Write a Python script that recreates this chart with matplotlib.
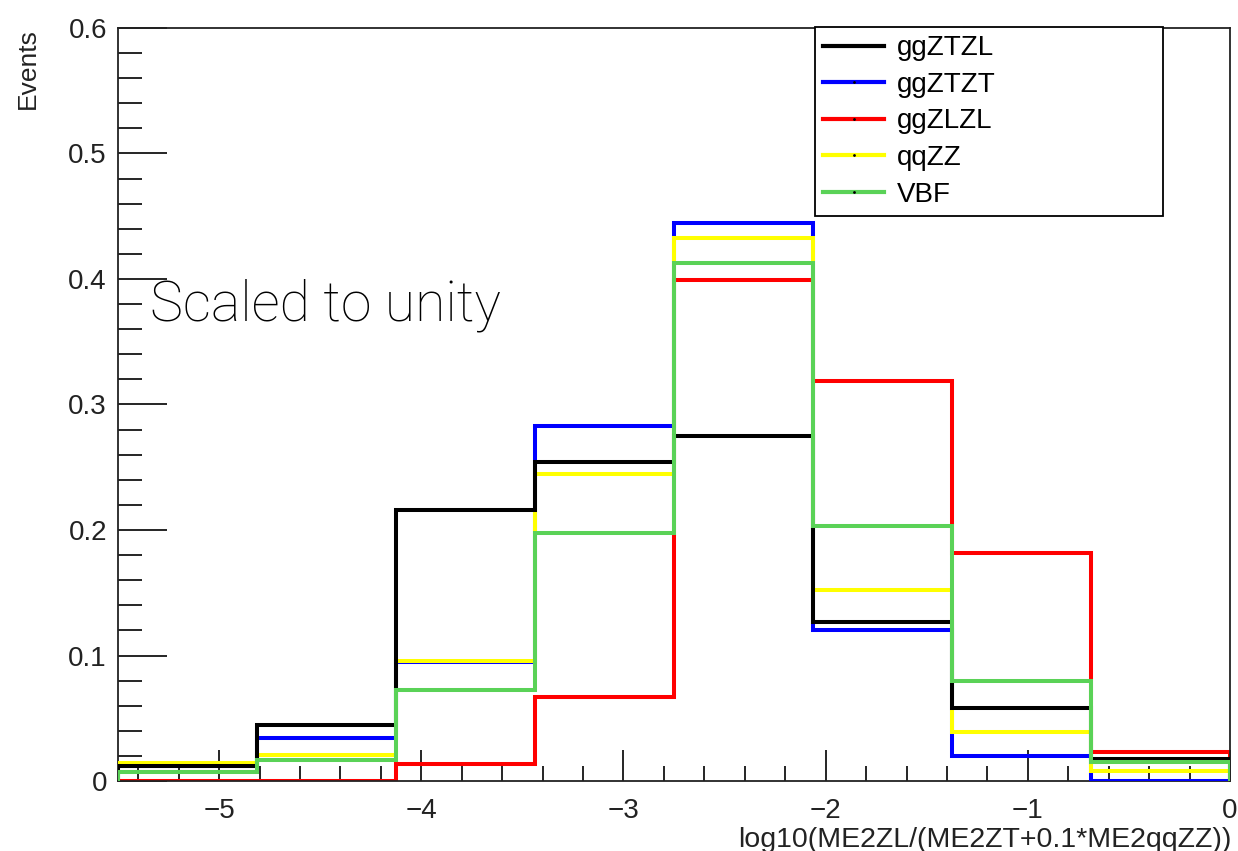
#!/usr/bin/env python3
# Normalised histograms of log10(ME2ZL/(ME2ZT+0.1*ME2qqZZ)), ROOT-style look

import numpy as np
import matplotlib
matplotlib.use("Agg")
import matplotlib.pyplot as plt
from matplotlib.lines import Line2D
from matplotlib.ticker import MultipleLocator, FuncFormatter

plt.rcParams['font.family'] = ['Liberation Sans', 'DejaVu Sans']

# ---------------------------------------------------------------------------
# Data
# ---------------------------------------------------------------------------
bin_edges = np.linspace(-5.5, 0.0, 9)

labels = ["ggZTZL", "ggZTZT", "ggZLZL", "qqZZ", "VBF"]
colors = ["black", "#0000ff", "#ff0000", "#ffff00", "#5ad257"]

ggZTZL = [0.012, 0.045, 0.216, 0.254, 0.275, 0.127, 0.058, 0.0175]
ggZTZT = [0.012, 0.034, 0.095, 0.283, 0.445, 0.120, 0.020, 0.0]
ggZLZL = [0.0, 0.0, 0.0135, 0.067, 0.399, 0.319, 0.182, 0.023]
qqZZ = [0.014, 0.021, 0.096, 0.245, 0.433, 0.152, 0.039, 0.008]
VBF = [0.007, 0.0167, 0.0725, 0.198, 0.413, 0.203, 0.080, 0.015]

series = [ggZTZL, ggZTZT, ggZLZL, qqZZ, VBF]
z_order = [5, 3, 2, 4, 6]

# ---------------------------------------------------------------------------
# Figure
# ---------------------------------------------------------------------------
W, H = 1238, 851
fig = plt.figure(figsize=(W / 100, H / 100), dpi=100)
ax = fig.add_axes([118 / W, 1 - 781 / H, (1230 - 118) / W, (781 - 28) / H])

for vals, col, lab, z in zip(series, colors, labels, z_order):
    ax.stairs(vals, bin_edges, baseline=0, color=col, lw=2.9, zorder=z, label=lab)

ax.set_xlim(-5.5, 0.0)
ax.set_ylim(0, 0.6)

# ticks like ROOT: inside, bottom/left only
ax.xaxis.set_major_locator(MultipleLocator(1))
ax.xaxis.set_minor_locator(MultipleLocator(0.2))
ax.yaxis.set_major_locator(MultipleLocator(0.1))
ax.yaxis.set_minor_locator(MultipleLocator(0.02))
ax.yaxis.set_major_formatter(FuncFormatter(lambda v, p: "0" if abs(v) < 1e-9 else f"{v:.1f}"))
ax.xaxis.set_major_formatter(FuncFormatter(lambda v, p: "0" if abs(v) < 1e-9 else f"{v:.0f}".replace("-", "\u2212")))

ax.tick_params(axis='x', which='major', direction='in', length=22, width=1.2, labelsize=20, pad=12)
ax.tick_params(axis='x', which='minor', direction='in', length=11, width=1.2)
ax.tick_params(axis='y', which='major', direction='in', length=35, width=1.2, labelsize=20, pad=8)
ax.tick_params(axis='y', which='minor', direction='in', length=17, width=1.2)
ax.tick_params(top=False, right=False, which='both')
for tl in ax.get_xticklabels() + ax.get_yticklabels():
    tl.set_color("#222222")

for s in ax.spines.values():
    s.set_linewidth(1.3)
    s.set_color("#222222")

# legend box, placed in figure pixels
handles = [Line2D([0], [0], color=c, lw=3, marker='.', markersize=2,
                  markerfacecolor='black', markeredgecolor='black') for c in colors]
leg = fig.legend(handles, labels, loc='upper left',
                 bbox_to_anchor=(815 / W, 1 - 214 / H, (1163 - 815) / W, (214 - 27) / H),
                 mode='expand', fontsize=20, frameon=True, fancybox=False,
                 handlelength=2.2, handletextpad=0.45, labelspacing=0.38,
                 borderpad=0.3, borderaxespad=0)
leg.get_frame().set_edgecolor('black')
leg.get_frame().set_linewidth(1.3)
leg.get_frame().set_alpha(1)
leg.set_zorder(10)

# text
fig.text(150 / W, 1 - 305 / H, "Scaled to unity", fontsize=40,
         family=['Roboto', 'Liberation Sans'], fontweight='light', va='center', ha='left')
fig.text(1232 / W, 1 - 847 / H, "log10(ME2ZL/(ME2ZT+0.1*ME2qqZZ))",
         fontsize=20.5, ha='right', va='baseline', color="#222222")
fig.text(28 / W, 1 - 28 / H, "Events", fontsize=19, rotation=90,
         ha='center', va='top', color="#222222")

fig.savefig("out.png", dpi=100)
